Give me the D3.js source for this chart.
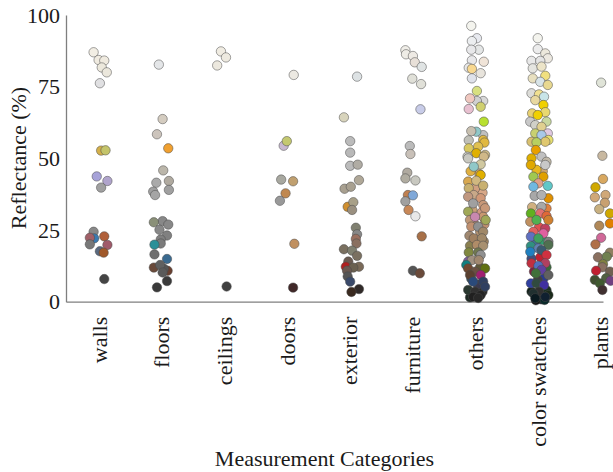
<!DOCTYPE html>
<html>
<head>
<meta charset="utf-8">
<script src="https://cdn.jsdelivr.net/npm/d3@7"></script>
<style>
  body { margin: 0; background: #fff; }
  text { font-family: "Liberation Serif", "Times New Roman", serif; fill: #1a1a1a; }
</style>
</head>
<body>
<div id="content"></div>
<script>
// categories along the x axis
const categories = ["walls", "floors", "ceilings", "doors", "exterior", "furniture", "others", "color swatches", "plants"];
const yTicks = [0, 25, 50, 75, 100];

// each point: [jitter (in category units), reflectance %, measured colour]
const walls = [
    [-0.10, 87.0, "#f2eee4"], [-0.02, 84.3, "#f0ebe0"], [0.07, 84.1, "#efeadf"], [0.03, 81.7, "#ece8dc"],
    [0.11, 80.0, "#ebe7dc"], [0.00, 76.2, "#e0e0e2"], [0.02, 52.7, "#d4b04a"], [0.09, 52.8, "#c4c46a"],
    [-0.05, 43.7, "#a6a2d8"], [0.12, 42.1, "#b0a4cc"], [0.02, 39.8, "#a0a0a0"], [-0.10, 24.4, "#888888"],
    [-0.09, 22.1, "#3a7ab0"], [-0.16, 22.3, "#a06068"], [0.07, 22.8, "#b0603a"], [-0.16, 20.0, "#787878"],
    [0.12, 19.8, "#a05a6a"], [0.00, 17.6, "#5a6a80"], [0.06, 17.1, "#a0582a"], [0.07, 7.9, "#444444"]
];
const floors = [
    [-0.06, 82.7, "#e4e6e8"], [0.00, 63.7, "#d4ccc0"], [-0.09, 58.4, "#ccc4bc"], [0.09, 53.5, "#f0a030"],
    [0.01, 45.8, "#bbb6aa"], [-0.10, 41.5, "#aaaaaa"], [0.10, 42.1, "#b0aaa0"], [-0.15, 38.4, "#a0a0a0"],
    [-0.12, 37.2, "#a5a5a5"], [0.10, 39.0, "#a0a0a0"], [0.00, 28.1, "#888888"], [0.09, 26.9, "#888888"],
    [-0.14, 27.7, "#8a9078"], [-0.05, 25.1, "#888888"], [0.07, 23.1, "#808080"], [-0.03, 21.7, "#808080"],
    [-0.03, 20.3, "#7c7c7c"], [-0.13, 19.9, "#2a9098"], [-0.13, 16.5, "#707070"], [0.07, 14.9, "#3a6a90"],
    [-0.14, 11.9, "#6a4a3a"], [0.08, 10.8, "#6a4030"], [0.02, 11.5, "#555555"], [-0.04, 12.8, "#606060"],
    [0.00, 10.2, "#5a5a5a"], [0.07, 7.2, "#3a3a3a"], [-0.09, 5.0, "#3a3a3a"]
];
const ceilings = [
    [-0.07, 87.3, "#f0ece2"], [0.01, 85.2, "#eeeae0"], [-0.13, 82.4, "#ece8de"], [0.02, 5.3, "#404040"]
];
const doors = [
    [0.09, 79.1, "#ece9e2"], [-0.07, 54.4, "#c8b8d0"], [-0.02, 56.0, "#c4c870"], [-0.11, 42.6, "#a8a8a0"],
    [0.08, 42.0, "#c0a070"], [-0.04, 37.8, "#c08850"], [-0.13, 35.2, "#999999"], [0.10, 20.2, "#c09060"],
    [0.08, 4.9, "#402828"]
];
const exterior = [
    [0.10, 78.5, "#dde2e4"], [-0.11, 64.3, "#d8d4bc"], [-0.01, 56.0, "#bbbbbb"], [-0.01, 52.0, "#b8b8b8"],
    [-0.01, 47.4, "#bbbbbb"], [0.11, 47.8, "#b0aca4"], [0.13, 42.4, "#b0a898"], [-0.10, 39.4, "#a8a090"],
    [0.00, 40.1, "#a8a090"], [-0.05, 33.1, "#d09030"], [0.04, 34.7, "#a8a088"], [0.02, 32.0, "#9a9080"],
    [0.08, 25.8, "#808070"], [0.10, 23.5, "#888888"], [0.08, 21.9, "#9a7060"], [0.09, 20.3, "#8a7060"],
    [-0.11, 18.3, "#7a7060"], [0.02, 17.8, "#808070"], [0.10, 16.0, "#7a7060"], [-0.04, 14.0, "#6a5a50"],
    [-0.08, 12.2, "#b02020"], [0.13, 12.2, "#7a6a58"], [0.04, 11.9, "#6a6050"], [-0.06, 10.8, "#6a5850"],
    [-0.05, 8.8, "#555555"], [-0.01, 7.0, "#3a4a6a"], [0.13, 4.4, "#302a28"], [0.01, 3.4, "#3a2a20"]
];
const furniture = [
    [-0.13, 87.7, "#f0eee8"], [-0.12, 86.3, "#eeece6"], [-0.01, 85.7, "#eeeae4"], [0.02, 83.5, "#e8e0d8"],
    [0.13, 81.9, "#e0e4e4"], [-0.02, 77.8, "#e0e0d8"], [0.12, 75.9, "#e0e0d8"], [0.11, 67.1, "#c8cce8"],
    [-0.06, 54.3, "#bbbbbb"], [-0.05, 51.5, "#c8c0b8"], [-0.10, 45.0, "#b0aaa0"], [0.03, 42.3, "#c8c8c0"],
    [-0.13, 43.0, "#b0aca0"], [-0.09, 37.2, "#c08050"], [-0.01, 37.1, "#80a8d8"], [-0.13, 35.0, "#a0a0a0"],
    [-0.08, 32.0, "#c88858"], [0.03, 29.8, "#e8e8e8"], [0.13, 22.8, "#a87048"], [-0.01, 10.8, "#555555"],
    [0.10, 9.9, "#6a4a3a"]
];
const others = [
    [0.05, 44.5, "#d8a860"], [-0.09, 45.5, "#e0b040"], [0.10, 38.0, "#d8a888"], [-0.02, 39.5, "#d0a080"],
    [0.08, 31.0, "#d09880"], [-0.06, 32.0, "#c8a078"], [0.13, 27.0, "#c09070"], [-0.04, 27.5, "#b89070"],
    [0.06, 24.5, "#b09070"], [-0.11, 23.0, "#a08870"], [0.12, 21.0, "#9a8060"], [-0.10, 19.5, "#8a8050"],
    [0.06, 12.0, "#605838"], [-0.08, 8.0, "#305060"], [0.10, 3.5, "#2a2a2a"], [-0.10, 1.5, "#1e2a24"],
    [0.02, 6.0, "#3a3a50"],
    [-0.08, 96.2, "#f4f4ee"], [0.01, 91.9, "#e8eaf0"], [-0.07, 90.9, "#eceef0"], [0.04, 87.9, "#e4e6e6"],
    [-0.08, 87.9, "#e8e8ea"], [-0.07, 84.2, "#e8e8ea"], [0.12, 83.7, "#f0e4d8"], [-0.12, 81.6, "#e8e8e8"],
    [-0.07, 81.2, "#f8d890"], [0.07, 79.7, "#e8e4dc"], [-0.07, 77.9, "#dfe2ea"], [0.01, 73.5, "#d8e080"],
    [0.11, 70.0, "#d8d8d8"], [0.01, 70.0, "#d0d0d0"], [-0.10, 70.9, "#f0c8c0"], [0.07, 68.0, "#d0d070"],
    [-0.12, 67.2, "#e8c0d0"], [0.12, 62.8, "#b8e030"], [0.11, 58.1, "#c0c0c0"], [0.00, 59.3, "#90c8c8"],
    [-0.08, 59.5, "#c8c0b0"], [-0.12, 56.3, "#c0c0b8"], [0.11, 56.4, "#e0b840"], [0.13, 55.5, "#e0b840"],
    [0.03, 54.1, "#e0c050"], [-0.12, 53.5, "#d8c860"], [0.00, 51.8, "#e0b000"], [-0.14, 50.6, "#c8c8c0"],
    [0.14, 51.2, "#d0bc88"], [-0.13, 50.0, "#c8c8c0"], [0.12, 50.6, "#d0b888"], [0.07, 47.9, "#d0c8a0"],
    [-0.04, 47.1, "#90c8c8"], [0.07, 44.2, "#e0b000"], [-0.13, 41.9, "#d8a850"], [0.00, 42.2, "#d0b880"],
    [0.11, 40.5, "#c8b070"], [-0.12, 39.6, "#c8b070"], [-0.04, 37.2, "#c8a888"], [0.07, 36.1, "#d09878"],
    [-0.13, 36.6, "#c09880"], [0.11, 33.7, "#c89878"], [0.14, 32.6, "#c89878"], [-0.05, 34.3, "#a0a0a0"],
    [-0.13, 31.4, "#a0a858"], [0.11, 29.6, "#c89870"], [0.15, 28.5, "#a0a858"], [-0.10, 28.5, "#c09878"],
    [-0.02, 29.6, "#c888b0"], [-0.08, 26.2, "#c09070"], [0.03, 26.2, "#909090"], [0.11, 24.4, "#a08868"],
    [-0.04, 22.1, "#a08060"], [0.09, 22.1, "#a08868"], [0.01, 19.8, "#b08c68"], [0.11, 19.5, "#a89070"],
    [-0.12, 17.2, "#808840"], [0.03, 17.2, "#707850"], [0.07, 16.3, "#909090"], [-0.13, 14.0, "#8060a0"],
    [-0.07, 14.5, "#a09080"], [0.04, 14.5, "#a08870"], [-0.16, 12.8, "#108080"], [-0.13, 11.6, "#704830"],
    [0.14, 11.6, "#607010"], [-0.02, 10.5, "#6a5040"], [-0.10, 9.3, "#5a4030"], [0.07, 9.3, "#a02070"],
    [-0.05, 7.0, "#2a4a7a"], [0.11, 7.0, "#304060"], [0.14, 5.2, "#304060"], [-0.13, 4.1, "#2a3830"],
    [-0.02, 3.5, "#303030"], [0.07, 2.3, "#252525"], [-0.05, 1.7, "#202020"], [0.03, 1.3, "#282828"]
];
const colorSwatches = [
    [0.06, 45.5, "#d0a870"], [-0.04, 46.0, "#e8b820"], [0.12, 32.5, "#e08040"], [-0.11, 33.0, "#d0b080"],
    [0.00, 26.0, "#e05050"], [0.10, 25.5, "#c04060"], [-0.06, 20.0, "#4070a0"], [0.06, 21.5, "#30a070"],
    [-0.12, 15.0, "#405080"], [0.02, 15.5, "#c02030"], [0.12, 12.0, "#3a6a3a"], [-0.08, 10.5, "#802040"],
    [0.07, 8.0, "#2a3a90"], [-0.02, 7.5, "#404040"], [0.12, 4.0, "#183020"], [-0.12, 3.5, "#102018"],
    [0.04, 0.8, "#0a1020"], [-0.05, 0.5, "#151515"], [0.09, 0.6, "#0a2a2a"],
    [-0.02, 91.9, "#f4f4ee"], [-0.02, 88.1, "#ececec"], [0.10, 86.6, "#ece8dc"], [0.14, 84.9, "#ece8e0"],
    [-0.12, 84.0, "#e8e8e8"], [0.02, 84.0, "#e4e4e4"], [-0.10, 81.4, "#e4e4e0"], [0.04, 82.0, "#ece4c8"],
    [0.10, 78.8, "#f0e080"], [-0.10, 77.9, "#e8e0c0"], [0.02, 76.7, "#d8e4e8"], [0.14, 75.6, "#e8d890"],
    [-0.12, 72.7, "#dcdcd8"], [0.00, 72.3, "#f0e090"], [0.08, 71.5, "#c8e4e8"], [-0.06, 70.3, "#e8d8a0"],
    [0.07, 68.6, "#f0d000"], [-0.11, 65.7, "#e8d070"], [0.10, 66.1, "#e8d870"], [-0.02, 65.1, "#f0d000"],
    [-0.14, 62.8, "#c8c8c8"], [0.12, 62.8, "#c8d8a0"], [-0.06, 61.6, "#d0d0c8"], [0.04, 61.0, "#e0d090"],
    [0.14, 58.7, "#e0c8e0"], [-0.06, 58.7, "#c8d070"], [0.04, 58.1, "#a8c8e8"], [0.15, 56.4, "#e8e070"],
    [-0.12, 55.8, "#d8c070"], [0.10, 55.8, "#e0c870"], [-0.04, 55.6, "#b8d060"], [-0.05, 52.9, "#e8a000"],
    [0.04, 50.6, "#c0c0c0"], [-0.12, 50.0, "#e0b000"], [0.12, 48.8, "#c0b8a8"], [-0.13, 47.7, "#e0a800"],
    [0.10, 47.7, "#c8c8c8"], [-0.09, 43.6, "#a0c850"], [0.07, 43.6, "#e0a000"], [-0.01, 41.3, "#e0a088"],
    [0.14, 40.4, "#60c8c8"], [-0.09, 40.1, "#70b8e0"], [0.15, 36.1, "#e09000"], [-0.07, 36.9, "#a8a8a8"],
    [0.04, 37.2, "#b0b0b0"], [0.04, 33.1, "#a8a8a8"], [-0.13, 30.8, "#60b020"], [0.02, 30.8, "#e07070"],
    [0.12, 29.9, "#e06838"], [-0.14, 27.9, "#c09060"], [0.15, 28.5, "#d08030"], [-0.04, 28.5, "#50b050"],
    [-0.09, 24.4, "#e06060"], [0.07, 23.8, "#e060a0"], [-0.13, 22.7, "#6070c0"], [-0.01, 22.1, "#40a060"],
    [0.15, 20.9, "#808080"], [0.15, 19.8, "#507050"], [-0.13, 19.4, "#309080"], [-0.01, 18.6, "#6080b0"],
    [0.04, 18.0, "#3a5a70"], [-0.14, 17.4, "#2080c0"], [0.12, 16.3, "#d03040"], [-0.12, 13.4, "#c03040"],
    [0.10, 13.4, "#b04060"], [-0.01, 12.5, "#5070c0"], [0.04, 11.1, "#6040a0"], [-0.05, 9.9, "#40703a"],
    [0.15, 9.3, "#606060"], [-0.13, 6.4, "#3040a0"], [-0.04, 6.4, "#304a40"], [0.08, 5.8, "#4030a0"],
    [0.00, 3.5, "#303030"], [-0.09, 2.9, "#203030"], [0.15, 2.3, "#1a2a1a"], [0.10, 1.7, "#102030"],
    [-0.06, 1.2, "#0a1a20"]
];
const plants = [
    [-0.01, 76.4, "#e0e4d8"], [0.01, 50.9, "#c8b8a0"], [0.02, 42.8, "#d8a860"], [-0.10, 39.9, "#d0a800"],
    [0.06, 37.2, "#d0a878"], [-0.11, 36.4, "#d0a878"], [0.05, 34.5, "#c8a070"], [-0.04, 32.3, "#c8b080"],
    [0.13, 30.8, "#d0a800"], [0.13, 27.3, "#e08000"], [-0.04, 26.5, "#b08858"], [-0.01, 22.3, "#d06898"],
    [-0.10, 20.0, "#b07048"], [0.13, 17.1, "#908060"], [-0.06, 15.5, "#8a7060"], [0.08, 15.7, "#708050"],
    [0.02, 13.1, "#808040"], [0.01, 12.0, "#8a7060"], [-0.09, 10.8, "#c02030"], [0.13, 10.5, "#706050"],
    [0.07, 8.2, "#506040"], [-0.11, 7.6, "#405030"], [0.14, 7.3, "#704080"], [-0.03, 6.4, "#405a30"],
    [0.01, 4.1, "#403030"]
];

const pointsByCategory = [walls, floors, ceilings, doors, exterior, furniture, others, colorSwatches, plants];

const width = 613, height = 472;

const svg = d3.select("#content")
    .append("svg")
    .attr("width", width)
    .attr("height", height);

// x is the category index, y the reflectance
const x = d3.scaleLinear()
    .domain([-0.54, 8.02])
    .range([66, 603]);
const y = d3.scaleLinear()
    .domain([0, 100])
    .range([301.7, 15]);

// y axis
const yAxis = svg.append("g")
    .attr("transform", `translate(${x.range()[0]}, 0)`)
    .call(d3.axisLeft(y).tickValues(yTicks).tickSize(0).tickPadding(6));
yAxis.select(".domain").attr("stroke", "#7f7f7f").attr("stroke-width", 1.3);
yAxis.selectAll("text")
    .style("font-size", "22px")
    .attr("font-family", null);

// x axis
const xAxis = svg.append("g")
    .attr("transform", `translate(0, ${y(0)})`)
    .call(d3.axisBottom(x)
        .tickValues(d3.range(categories.length))
        .tickFormat(i => categories[i])
        .tickSize(0)
        .tickSizeOuter(0));
xAxis.select(".domain").attr("stroke", "#7f7f7f").attr("stroke-width", 1.3);
xAxis.selectAll("text")
    .style("font-size", "22px")
    .attr("font-family", null)
    .attr("text-anchor", "end")
    .attr("transform", "translate(0, 15) rotate(-90)")
    .attr("x", 0)
    .attr("y", 0)
    .attr("dy", "0.28em");

// axis titles
svg.append("text")
    .text("Reflectance (%)")
    .attr("transform", `translate(26, 158) rotate(-90)`)
    .style("font-size", "22px")
    .style("text-anchor", "middle");

svg.append("text")
    .text("Measurement Categories")
    .attr("x", 324.5)
    .attr("y", 466)
    .style("font-size", "22px")
    .style("text-anchor", "middle");

// points, one group per category
const groups = svg.append("g")
    .selectAll("g")
    .data(pointsByCategory)
    .join("g");

groups.selectAll("circle")
    .data((d, i) => d.map(p => ({ cat: i, jitter: p[0], value: p[1], color: p[2] })))
    .join("circle")
    .attr("cx", d => x(d.cat + d.jitter))
    .attr("cy", d => y(d.value))
    .attr("r", 4.7)
    .attr("fill", d => d.color)
    .attr("stroke", "#4a4a4a")
    .attr("stroke-opacity", 0.85)
    .attr("stroke-width", 0.6);
</script>
</body>
</html>
